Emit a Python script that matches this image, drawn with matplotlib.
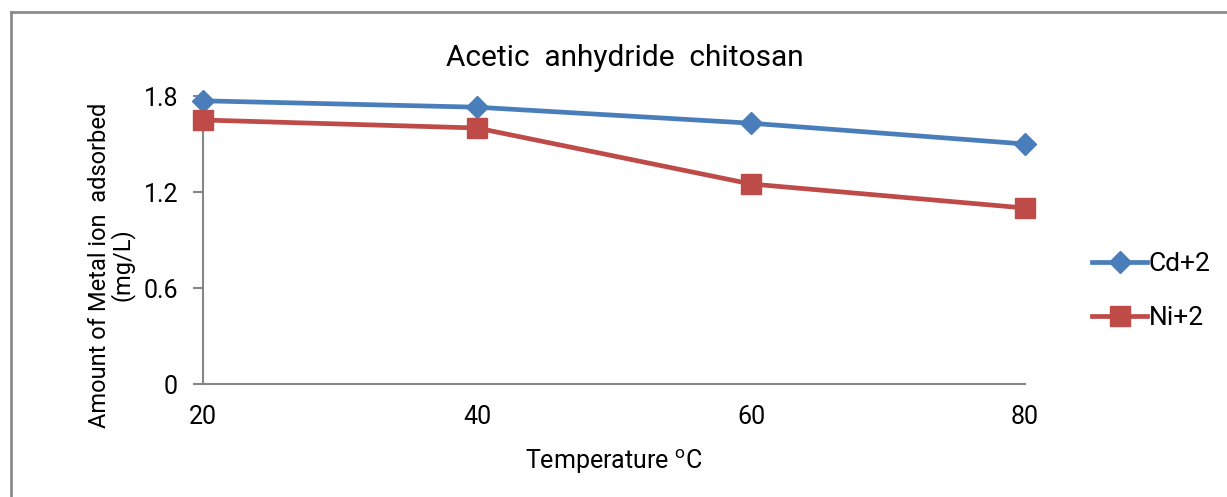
import matplotlib
matplotlib.use("Agg")
import matplotlib.pyplot as plt
from matplotlib.lines import Line2D

plt.rcParams['font.family'] = ['Roboto', 'DejaVu Sans']

temperatures = [20, 40, 60, 80]
cd_values = [1.77, 1.73, 1.63, 1.50]
ni_values = [1.65, 1.60, 1.25, 1.10]
y_ticks = [0, 0.6, 1.2, 1.8]
y_tick_labels = ["0", "0.6", "1.2", "1.8"]
x_ticks = [20, 40, 60, 80]

W, H = 1227, 497
fig = plt.figure(figsize=(W / 100, H / 100), dpi=100)
ax = fig.add_axes([203 / W, 1 - 384 / H, (1025 - 203) / W, (384 - 96) / H])

blue = '#4A7EBB'
red = '#BE4B48'
ax.plot(temperatures, cd_values, color=blue, lw=3.4, marker='D', ms=11,
        mec=blue, mfc=blue, label='Cd+2', clip_on=False, zorder=3)
ax.plot(temperatures, ni_values, color=red, lw=3.4, marker='s', ms=14,
        mec=red, mfc=red, label='Ni+2', clip_on=False, zorder=3)

ax.set_xlim(20, 80)
ax.set_ylim(0, 1.8)
ax.set_xticks(x_ticks)
ax.set_xticklabels([str(t) for t in x_ticks], fontsize=18)
ax.set_yticks(y_ticks)
ax.set_yticklabels(y_tick_labels, fontsize=18)
ax.tick_params(axis='x', length=0, pad=15)
ax.tick_params(axis='y', length=7, width=1.5, color='#868686', pad=11)
for s in ['top', 'right']:
    ax.spines[s].set_visible(False)
for s in ['left', 'bottom']:
    ax.spines[s].set_color('#868686')
    ax.spines[s].set_linewidth(1.5)

fig.text(625 / W, 1 - 66 / H, 'Acetic  anhydride  chitosan', fontsize=21.5,
         ha='center', va='baseline')
fig.text(614 / W, 1 - 469 / H, 'Temperature $^{\\mathregular{o}}$C', fontsize=18,
         ha='center', va='baseline')
fig.text(111 / W, 1 - 265 / H, 'Amount of Metal ion  adsorbed\n(mg/L)',
         fontsize=17, rotation=90, ha='center', va='center',
         multialignment='center', linespacing=0.95)

leg = fig.legend(loc='center left', bbox_to_anchor=(1092 / W, 1 - 291 / H),
                 frameon=False, fontsize=19, handlelength=2.1, handletextpad=0.05,
                 labelspacing=1.15, borderaxespad=0, borderpad=0)

# Outer chart border (top and left visible)
fig.add_artist(Line2D([11 / W, 1.0], [1 - 11.5 / H, 1 - 11.5 / H],
                      transform=fig.transFigure, color='#8c8c8c', lw=2))
fig.add_artist(Line2D([11 / W, 11 / W], [0.0, 1 - 11.5 / H],
                      transform=fig.transFigure, color='#8c8c8c', lw=2))

fig.savefig('out.png', dpi=100)
